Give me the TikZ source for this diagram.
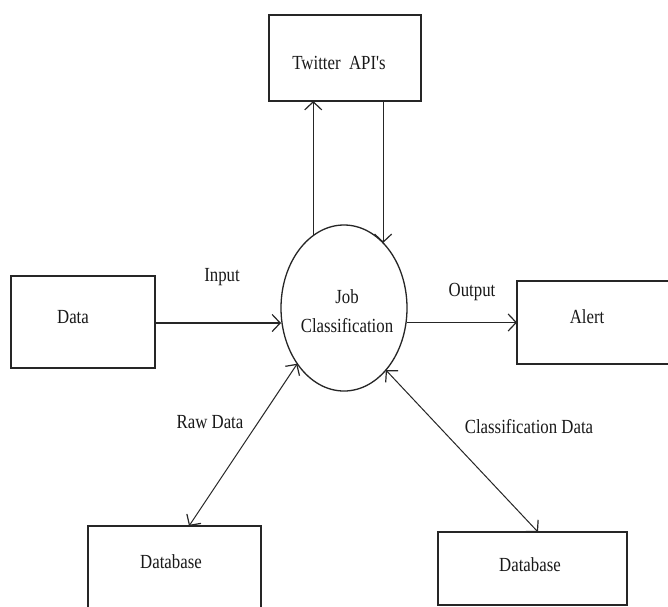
\documentclass[tikz,border=0pt]{standalone}
\usepackage{fontspec}
\newfontfamily\dfdfont{Liberation Serif}[FakeStretch=0.84]
\usetikzlibrary{arrows.meta,shapes.geometric,calc}
\tikzset{
  box/.style={draw=black!85, line width=1.4pt, rectangle, inner sep=0pt, outer sep=0pt},
  proc/.style={draw=black!85, line width=1.3pt, ellipse, inner sep=0pt, outer sep=0pt,
               minimum width=126pt, minimum height=166pt},
  txt/.style={font=\dfdfont\fontsize{20}{29}\selectfont, inner sep=0pt, align=center, text=black!90},
  arr/.style={draw=black!85, line width=1.2pt, -{Straight Barb[length=8pt,width=17pt,line width=1.2pt]}},
  darr/.style={draw=black!85, line width=1pt, {Straight Barb[length=8pt,width=17pt,line width=1.2pt]}-{Straight Barb[length=8pt,width=17pt,line width=1.2pt]}}
}
\begin{document}
\begin{tikzpicture}[x=1pt,y=-1pt]
\useasboundingbox (0,0) rectangle (668,606);
\fill[white] (0,0) rectangle (668,606);
\clip (0,0) rectangle (668,606);
% nodes
\node[box, minimum width=152pt, minimum height=86pt] (tw) at (345,58) {};
\node[proc] (jc) at (344,308) {};
\node[box, minimum width=144pt, minimum height=92pt] (data) at (83,322) {};
\node[box, minimum width=160pt, minimum height=83pt] (alert) at (597,322.5) {};
\node[box, minimum width=173pt, minimum height=100pt] (db1) at (174.5,576) {};
\node[box, minimum width=189pt, minimum height=73pt] (db2) at (532.5,568.5) {};
% texts
\node[txt] (twt) at (339,63) {Twitter\ \ API's};
\node[txt] (jct) at (347,311.5) {Job\\Classification};
\node[txt] (datat) at (73,317) {Data};
\node[txt] (alertt) at (587,317) {Alert};
\node[txt] (db1t) at (171,562) {Database};
\node[txt] (db2t) at (530,565) {Database};
\node[txt] (inl) at (222,277) {Input};
\node[txt] (outl) at (472,292) {Output};
\node[txt] (rawl) at (210,422) {Raw Data};
\node[txt] (cdl) at (529,427) {Classification Data};
% connectors
\draw[arr] (jc.113.2) -- (jc.113.2 |- tw.south);
\draw[arr] (jc.59 |- tw.south) -- (jc.59);
\draw[arr] (data.east |- 0,323) -- (jc.west |- 0,323);
\draw[arr] (jc.east |- alert.west) -- (alert.west);
\draw[darr] (jc.230) -- ($(db1.north west)!0.584!(db1.north east)$);
\draw[darr] (jc.304) -- ($(db2.north west)!0.529!(db2.north east)$);
\end{tikzpicture}
\end{document}
